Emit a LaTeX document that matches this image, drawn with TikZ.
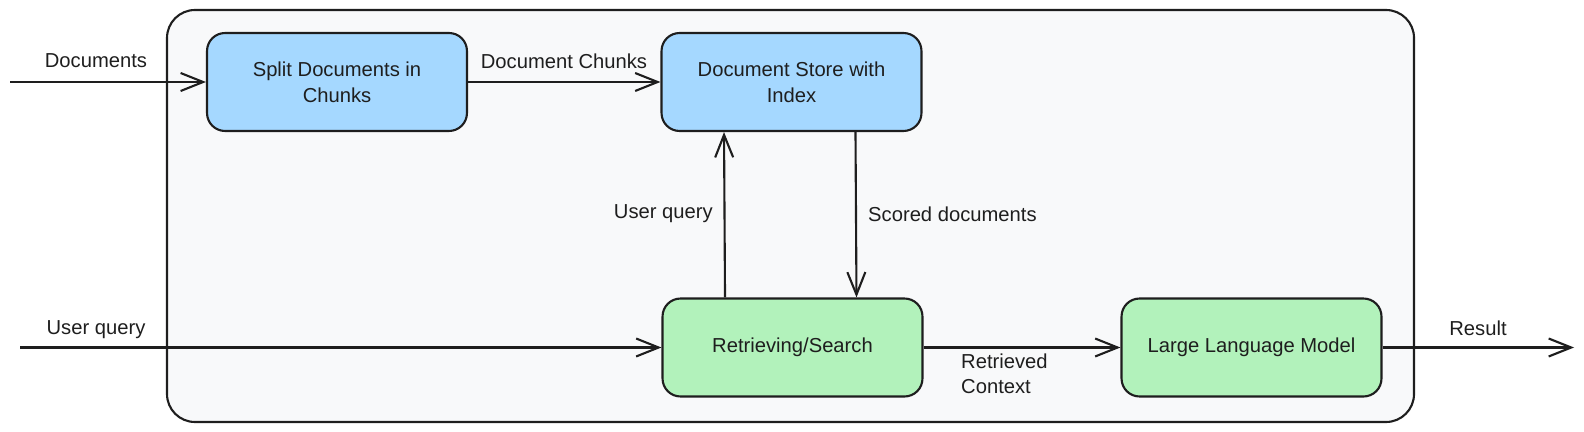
\documentclass[tikz,border=0pt]{standalone}
\usepackage{fontspec}
\setmainfont{Liberation Sans}
\usetikzlibrary{arrows.meta}
\definecolor{boxblue}{HTML}{A5D8FF}
\definecolor{boxgreen}{HTML}{B2F2BB}
\definecolor{panel}{HTML}{F8F9FA}
\definecolor{ink}{HTML}{1E1E1E}

\begin{document}
\begin{tikzpicture}[x=0.02cm,y=-0.02cm,
	stage/.style={draw=ink,line width=1.2pt,rounded corners=0.36cm,minimum width=5.2cm,minimum height=1.96cm,align=center,text=ink,font=\fontsize{11.5}{15}\selectfont},
	flow/.style={draw=ink,line width=1.2pt,-{Straight Barb[length=0.45cm,width=0.36cm]}},
	lbl/.style={text=ink,font=\fontsize{11.5}{14}\selectfont}]

	\useasboundingbox (0,0) rectangle (1584,432);
	\draw[draw=ink,fill=panel,line width=1.2pt,rounded corners=0.56cm] (167,10) rectangle (1414,422);

	\node[stage,fill=boxblue] (split) at (337,82) {Split Documents in\\Chunks};
	\node[stage,fill=boxblue] (store) at (791.5,82) {Document Store with\\Index};
	\node[stage,fill=boxgreen] (ret) at (792.5,347.5) {Retrieving/Search};
	\node[stage,fill=boxgreen] (llm) at (1251.5,347.5) {Large Language Model};

	\coordinate (docin) at (10,82);
	\coordinate (queryin) at (20,347.5);
	\coordinate (resout) at (1574,347.5);

	\draw[flow] (docin) -- (split);
	\draw[flow] (split) -- (store);
	\draw[flow] ([xshift=-1.35cm]ret.north) -- ([xshift=-1.35cm]store.south);
	\draw[flow] ([xshift=1.28cm]store.south) -- ([xshift=1.28cm]ret.north);
	\draw[flow] (queryin) -- (ret);
	\draw[flow] (ret) -- (llm);
	\draw[flow] (llm) -- (resout);

	\node[lbl] (docs) at (96,61) {Documents};
	\node[lbl] (chunks) at (564,61) {Document Chunks};
	\node[lbl,anchor=east] (qup) at (719,214) {User query};
	\node[lbl,anchor=west] (scored) at (862,214) {Scored documents};
	\node[lbl] (query) at (96,330) {User query};
	\node[lbl,anchor=west,align=left] (ctx) at (955,373.5) {Retrieved\\Context};
	\node[lbl] (result) at (1478,328) {Result};
\end{tikzpicture}
\end{document}
